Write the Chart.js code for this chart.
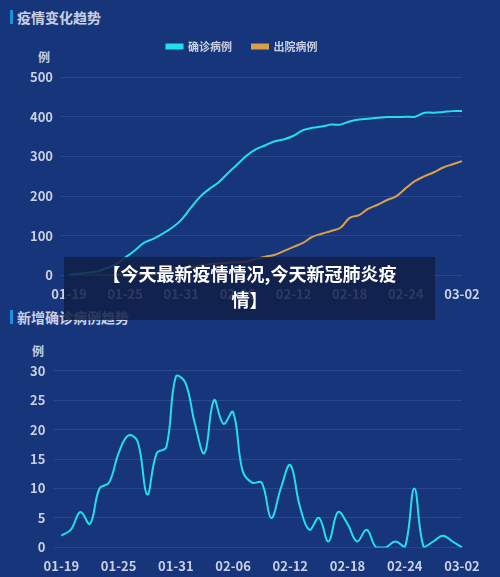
<!DOCTYPE html>
<html><head><meta charset="utf-8">
<script src="https://cdn.jsdelivr.net/npm/chart.js@4"></script>
<style>
body{margin:0;width:500px;height:577px;background:#17357a;position:relative;overflow:hidden;font-family:"Noto Sans CJK SC",sans-serif}
.t{position:absolute;left:10px;color:#c9d0e2;font-size:14px;font-weight:bold;border-left:3px solid #1e90e0;padding-left:4px;line-height:14px}
.w{position:absolute;left:0;width:500px}
.u{position:absolute;color:#c9d0e2;font-size:12px;font-weight:bold}
#cap{position:absolute;left:64px;top:257px;width:371px;height:63px;background:rgba(18,30,70,0.85);color:#fff;font-weight:bold;font-size:18px;text-align:center;line-height:26px;padding:3px 22px 0;box-sizing:border-box;word-break:break-all}
</style></head><body>
<div class="t" style="top:10px">疫情变化趋势</div>
<div class="t" style="top:310px">新增确诊病例趋势</div>
<div class="u" style="left:38px;top:48px">例</div>
<div class="u" style="left:32px;top:342px">例</div>
<div class="w" style="top:21px;height:284px"><canvas id="c1"></canvas></div>
<div class="w" style="top:355px;height:222px"><canvas id="c2"></canvas></div>
<div id="cap">【今天最新疫情情况,今天新冠肺炎疫<br>情】</div>
<script>
const dates=["01-19","01-20","01-21","01-22","01-23","01-24","01-25","01-26","01-27","01-28","01-29","01-30","01-31","02-01","02-02","02-03","02-04","02-05","02-06","02-07","02-08","02-09","02-10","02-11","02-12","02-13","02-14","02-15","02-16","02-17","02-18","02-19","02-20","02-21","02-22","02-23","02-24","02-25","02-26","02-27","02-28","03-01","03-02"];
const confirmed=[2,4,7,10,18,28,45,62,82,92,105,120,140,170,198,218,235,258,280,302,318,328,338,343,352,366,372,375,380,380,388,393,395,397,399,399,400,400,410,410,412,414,414];
const discharged=[0,0,0,0,0,1,1,2,3,5,8,12,15,20,25,28,30,32,33,35,42,47,52,62,72,82,97,105,112,120,145,152,168,178,190,200,220,238,250,260,272,280,288];
const newCases=[2,3,6,4,10,11,16,19,18,9,16,17,29,28,21,16,25,21,23,13,11,11,5,10,14,7,3,5,1,6,4,1,3,0,0,1,0,10,0,1,2,1,0];
const txt='#c9d0e2';
function xs(){return{grid:{display:false},border:{display:false},offset:false,
 ticks:{color:txt,font:{size:13,weight:'bold'},autoSkip:false,maxRotation:0,callback:(v,i)=>i%6===0?dates[i]:''}};}
function ys(max,step){return{min:0,max:max,border:{display:false},grid:{color:'rgba(120,150,220,0.2)'},
 ticks:{stepSize:step,color:txt,font:{size:13,weight:'bold'},padding:8}};}
Chart.defaults.font.family='"Noto Sans CJK SC",sans-serif';
const legendGap={id:'lg',beforeInit(c){if(!c.legend)return;const f=c.legend.fit;c.legend.fit=function(){f.call(this);this.height+=15;};}};
new Chart(document.getElementById('c1'),{type:'line',
 data:{labels:dates,datasets:[
  {label:'确诊病例',data:confirmed,borderColor:'#22e0ea',backgroundColor:'#22e0ea',borderWidth:2,pointRadius:0,tension:0.4},
  {label:'出院病例',data:discharged,borderColor:'#d9a04a',backgroundColor:'#d9a04a',borderWidth:2,pointRadius:0,tension:0.4}]},
 options:{responsive:true,maintainAspectRatio:false,animation:false,
  layout:{padding:{left:22,right:38,top:0}},
  plugins:{legend:{labels:{color:txt,font:{size:11,weight:'bold'},boxWidth:16,boxHeight:4,padding:20}},tooltip:{enabled:false}},
  scales:{x:xs(),y:ys(500,100)}},plugins:[legendGap]});
new Chart(document.getElementById('c2'),{type:'line',
 data:{labels:dates,datasets:[
  {label:'新增确诊',data:newCases,borderColor:'#22e0ea',borderWidth:2,pointRadius:0,tension:0.4}]},
 options:{responsive:true,maintainAspectRatio:false,animation:false,
  layout:{padding:{left:22,right:38,top:10}},
  plugins:{legend:{display:false},tooltip:{enabled:false}},
  scales:{x:xs(),y:ys(30,5)}}});
</script></body></html>
